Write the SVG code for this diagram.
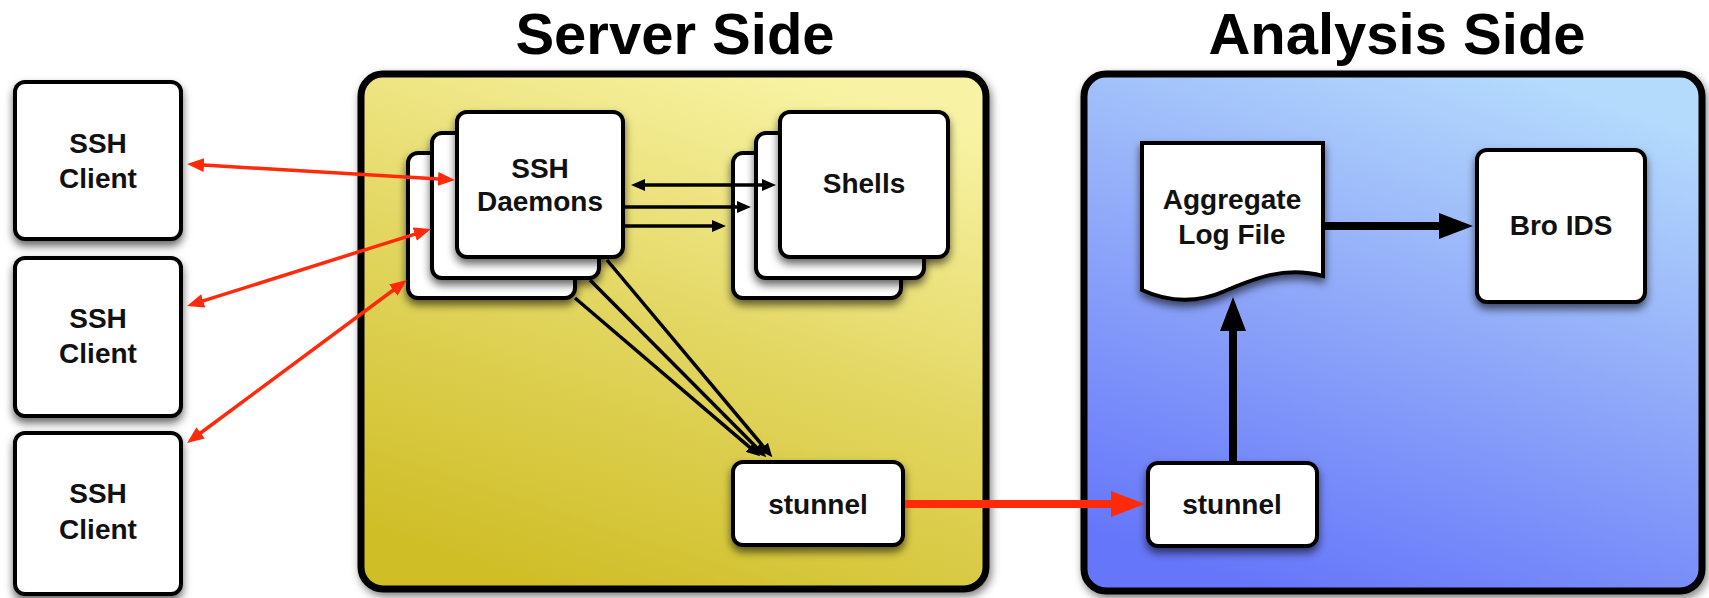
<svg xmlns="http://www.w3.org/2000/svg" width="1709" height="598" viewBox="0 0 1709 598">
<style>
.title{font-family:"Liberation Sans",Arial,sans-serif;font-weight:bold;font-size:58px;fill:#000;text-anchor:middle}
.lbl{font-family:"Liberation Sans",Arial,sans-serif;font-weight:bold;font-size:28px;fill:#111;text-anchor:middle}
.node{fill:#fff;stroke:#000;stroke-width:4;filter:url(#sh)}
.cont{stroke:#000;stroke-width:7;filter:url(#shc)}
.rthin{stroke:#ff2a0a;stroke-width:3.5;fill:none;marker-start:url(#mRed);marker-end:url(#mRed)}
.bthin{stroke:#000;stroke-width:3.5;fill:none;marker-end:url(#mBlk)}
.thick{stroke-width:8;fill:none}
</style>
<defs>
<linearGradient id="gY" x1="0.3" y1="1" x2="0.7" y2="0">
<stop offset="0" stop-color="#cfbe27"/>
<stop offset="0.5" stop-color="#e2d660"/>
<stop offset="1" stop-color="#f8f3a4"/>
</linearGradient>
<linearGradient id="gB" x1="0.3" y1="1" x2="0.7" y2="0">
<stop offset="0" stop-color="#6676fa"/>
<stop offset="0.5" stop-color="#8ea6f8"/>
<stop offset="1" stop-color="#b4dafc"/>
</linearGradient>
<filter id="sh" x="-20%" y="-20%" width="140%" height="150%">
<feDropShadow dx="0" dy="5" stdDeviation="4" flood-color="#000" flood-opacity="0.6"/>
</filter>
<filter id="shc" x="-5%" y="-5%" width="110%" height="110%">
<feDropShadow dx="2" dy="4" stdDeviation="4" flood-color="#000" flood-opacity="0.5"/>
</filter>
<marker id="mRed" viewBox="0 0 17 14" refX="1" refY="7" markerWidth="17" markerHeight="14" markerUnits="userSpaceOnUse" orient="auto-start-reverse">
<path d="M0,0 L17,7 L0,14 Z" fill="#ff2a0a"/>
</marker>
<marker id="mBlk" viewBox="0 0 14 12" refX="1" refY="6" markerWidth="14" markerHeight="12" markerUnits="userSpaceOnUse" orient="auto-start-reverse">
<path d="M0,0 L14,6 L0,12 Z" fill="#000"/>
</marker>
<marker id="mRedT" viewBox="0 0 34 26" refX="1" refY="13" markerWidth="34" markerHeight="26" markerUnits="userSpaceOnUse" orient="auto">
<path d="M0,0 L34,13 L0,26 Z" fill="#ff2a0a"/>
</marker>
<marker id="mBlkT" viewBox="0 0 34 26" refX="1" refY="13" markerWidth="34" markerHeight="26" markerUnits="userSpaceOnUse" orient="auto">
<path d="M0,0 L34,13 L0,26 Z" fill="#000"/>
</marker>
</defs>
<rect width="1709" height="598" fill="#fff"/>

<text class="title" x="675" y="54">Server Side</text>
<text class="title" x="1397" y="54">Analysis Side</text>

<g id="server-side">
<rect class="cont" x="361" y="74" width="625" height="515" rx="22" fill="url(#gY)"/>
</g>
<g id="analysis-side">
<rect class="cont" x="1084" y="74" width="618" height="517" rx="22" fill="url(#gB)"/>
</g>

<g id="client1">
<rect class="node" x="15" y="82" width="166" height="157" rx="10"/>
<text class="lbl" x="98" y="153">SSH</text>
<text class="lbl" x="98" y="188">Client</text>
</g>
<g id="client2">
<rect class="node" x="15" y="258" width="166" height="158" rx="10"/>
<text class="lbl" x="98" y="328">SSH</text>
<text class="lbl" x="98" y="363">Client</text>
</g>
<g id="client3">
<rect class="node" x="15" y="433" width="166" height="161" rx="10"/>
<text class="lbl" x="98" y="503">SSH</text>
<text class="lbl" x="98" y="539">Client</text>
</g>

<g id="ssh-daemons">
<rect class="node" x="408" y="153" width="167" height="145" rx="10"/>
<rect class="node" x="432" y="133" width="167" height="145" rx="10"/>
<rect class="node" x="457" y="112" width="166" height="145" rx="10"/>
<text class="lbl" x="540" y="178">SSH</text>
<text class="lbl" x="540" y="211">Daemons</text>
</g>

<g id="shells">
<rect class="node" x="733" y="153" width="168" height="145" rx="10"/>
<rect class="node" x="756" y="133" width="168" height="145" rx="10"/>
<rect class="node" x="780" y="112" width="168" height="145" rx="10"/>
<text class="lbl" x="864" y="193">Shells</text>
</g>

<g id="stunnel-server">
<rect class="node" x="733" y="462" width="170" height="83" rx="10"/>
<text class="lbl" x="818" y="514">stunnel</text>
</g>

<g id="stunnel-analysis">
<rect class="node" x="1148" y="463" width="169" height="83" rx="10"/>
<text class="lbl" x="1232" y="514">stunnel</text>
</g>

<g id="aggregate-log">
<path class="node" d="M1142,143 L1323,143 L1323,276 C1285,266 1255,278 1225,291 C1195,304 1168,302 1142,290 Z"/>
<text class="lbl" x="1232" y="209">Aggregate</text>
<text class="lbl" x="1232" y="244">Log File</text>
</g>

<g id="bro-ids">
<rect class="node" x="1477" y="150" width="168" height="152" rx="10"/>
<text class="lbl" x="1561" y="235">Bro IDS</text>
</g>

<g id="connectors">
<line class="rthin" x1="203" y1="165" x2="439" y2="179"/>
<line class="rthin" x1="202.3" y1="301.2" x2="415.7" y2="233.8"/>
<line class="rthin" x1="199.9" y1="433.5" x2="394.1" y2="289.5"/>
<line class="bthin" x1="644" y1="185" x2="763" y2="185" style="marker-start:url(#mBlk)"/>
<line class="bthin" x1="624" y1="207" x2="738" y2="207"/>
<line class="bthin" x1="624" y1="226" x2="713" y2="226"/>
<line class="bthin" x1="607" y1="260" x2="764" y2="447.3"/>
<line class="bthin" x1="590" y1="280" x2="757.1" y2="448.1"/>
<line class="bthin" x1="575" y1="298" x2="750.4" y2="447.9"/>
<line class="thick" x1="905" y1="504" x2="1112" y2="504" stroke="#ff2a0a" marker-end="url(#mRedT)"/>
<line class="thick" x1="1233" y1="463" x2="1233" y2="330" stroke="#000" marker-end="url(#mBlkT)"/>
<line class="thick" x1="1325" y1="226" x2="1440" y2="226" stroke="#000" marker-end="url(#mBlkT)"/>
</g>
</svg>
